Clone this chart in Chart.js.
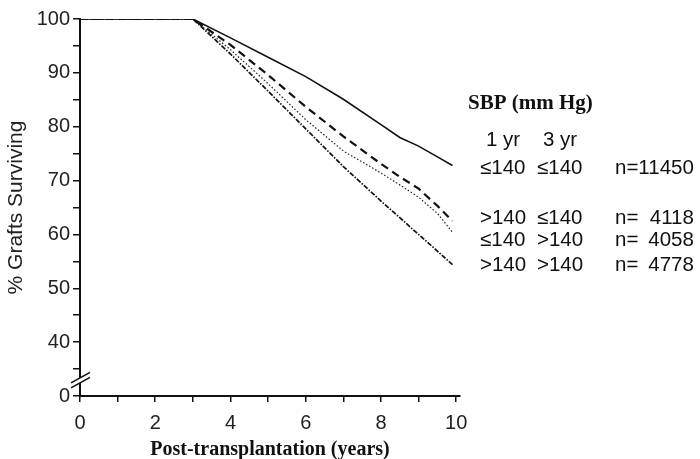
<!DOCTYPE html>
<html>
<head>
<meta charset="utf-8">
<script src="https://cdn.jsdelivr.net/npm/chart.js@4.4.0/dist/chart.umd.min.js"></script>
<style>
  html, body { margin: 0; padding: 0; background: #fff; }
</style>
</head>
<body>
<canvas id="myChart" width="700" height="459"></canvas>
<script>
// years post-transplantation and % grafts surviving
var years    = [0, 3, 4, 5, 6, 7, 8, 8.5, 9, 9.5, 9.9];
var lowLow   = [100, 100, 96.5, 92.9, 89.3, 85.1, 80.4, 78.0, 76.4, 74.4, 72.8];
var highLow  = [100, 100, 95.2, 89.6, 83.7, 78.2, 73.1, 70.7, 68.5, 65.3, 62.5];
var lowHigh  = [100, 100, 94.3, 88.0, 81.3, 75.5, 71.4, 69.2, 66.9, 63.9, 60.4];
var highHigh = [100, 100, 93.5, 86.6, 79.6, 72.6, 66.2, 63.1, 60.0, 56.9, 54.4];

// legend table
var sbp1yr  = ['≤140', '>140', '≤140', '>140'];
var sbp3yr  = ['≤140', '≤140', '>140', '>140'];
var nCounts = ['11450', '4118', '4058', '4778'];

// the y axis is broken: the lowest tick stands for 0
var yBreakValue = 30;
var yLabels = [0, 40, 50, 60, 70, 80, 90, 100];
var xLabels = [0, 2, 4, 6, 8, 10];

function points(vals) {
  return years.map(function (x, i) { return { x: x, y: vals[i] }; });
}

var numFont = 'Liberation Sans';

var legendText = {
  id: 'legendText',
  afterDraw: function (chart) {
    var ctx = chart.ctx;
    ctx.save();
    ctx.fillStyle = '#111';
    ctx.textBaseline = 'middle';
    ctx.textAlign = 'left';
    ctx.font = 'bold 21px "Liberation Serif"';
    ctx.fillText('SBP (mm Hg)', 468, 104);
    ctx.font = '20.5px "' + numFont + '"';
    ctx.fillText('1 yr', 486, 140);
    ctx.fillText('3 yr', 543, 140);
    var rows = [168, 218, 240, 265];
    var nRight = 615 + ctx.measureText('n=' + nCounts[0]).width;
    for (var i = 0; i < rows.length; i++) {
      ctx.textAlign = 'left';
      ctx.fillText(sbp1yr[i], 480, rows[i]);
      ctx.fillText(sbp3yr[i], 537, rows[i]);
      ctx.fillText('n=', 615, rows[i]);
      ctx.textAlign = 'right';
      ctx.fillText(nCounts[i], nRight, rows[i]);
    }
    ctx.restore();

    // axis break marks
    var ys = chart.scales.y, xs = chart.scales.x;
    var cx = xs.left, cy = ys.getPixelForValue(32.9);
    ctx.save();
    ctx.fillStyle = '#fff';
    ctx.beginPath();
    ctx.moveTo(cx - 9, cy + 2.5);
    ctx.lineTo(cx + 10, cy - 8);
    ctx.lineTo(cx + 10, cy - 3);
    ctx.lineTo(cx - 9, cy + 7.5);
    ctx.closePath();
    ctx.fill();
    ctx.strokeStyle = '#111';
    ctx.lineWidth = 1.6;
    ctx.beginPath();
    ctx.moveTo(cx - 9, cy + 2.5);
    ctx.lineTo(cx + 10, cy - 8);
    ctx.moveTo(cx - 9, cy + 7.5);
    ctx.lineTo(cx + 10, cy - 3);
    ctx.stroke();
    ctx.restore();
  }
};

var ctx = document.getElementById('myChart');
var myChart = new Chart(ctx, {
  type: 'line',
  data: {
    datasets: [
      { label: '≤140 ≤140', data: points(lowLow), borderColor: '#111', borderWidth: 1.6, order: 0 },
      { label: '>140 ≤140', data: points(highLow), borderColor: '#111', borderWidth: 2.2, borderDash: [8, 5], order: 1 },
      { label: '≤140 >140', data: points(lowHigh), borderColor: '#222', borderWidth: 1.2, borderDash: [1.5, 2], order: 2 },
      { label: '>140 >140', data: points(highHigh), borderColor: '#111', borderWidth: 1.7, borderDash: [5, 1.5, 1.5, 1.5], order: 3 }
    ]
  },
  options: {
    responsive: false,
    animation: false,
    events: [],
    elements: { point: { radius: 0 }, line: { tension: 0, fill: false } },
    layout: { padding: { top: 19, right: 240, left: 0, bottom: 0 } },
    plugins: { legend: { display: false }, tooltip: { enabled: false } },
    scales: {
      x: {
        type: 'linear',
        min: 0,
        max: 10.1,
        afterFit: function (s) { s.height = 63; },
        ticks: {
          stepSize: 1,
          includeBounds: false,
          autoSkip: false,
          maxRotation: 0,
          padding: 9,
          color: '#222',
          font: { family: numFont, size: 20 },
          callback: function (v) { return xLabels.indexOf(v) >= 0 ? String(v) : ''; }
        },
        grid: { drawOnChartArea: false, drawTicks: true, tickLength: 6, color: '#111', lineWidth: 1.5 },
        border: { display: true, color: '#111', width: 2 },
        title: {
          display: true,
          text: 'Post-transplantation (years)',
          color: '#111',
          font: { family: 'Liberation Serif', size: 20, weight: 'bold' },
          padding: { top: 0, bottom: -3 }
        }
      },
      y: {
        type: 'linear',
        min: yBreakValue,
        max: 100,
        afterFit: function (s) { s.width = 80; },
        ticks: {
          stepSize: 5,
          autoSkip: false,
          padding: 3,
          color: '#222',
          font: { family: numFont, size: 20 },
          callback: function (v) {
            if (v === yBreakValue) return '0';
            return yLabels.indexOf(v) >= 0 ? String(v) : '';
          }
        },
        grid: { drawOnChartArea: false, drawTicks: true, tickLength: 7, color: '#111', lineWidth: 1.5 },
        border: { display: true, color: '#111', width: 2 },
        title: {
          display: true,
          text: '% Grafts Surviving',
          color: '#222',
          font: { family: 'Liberation Sans', size: 21 },
          padding: { top: 4, bottom: 0 }
        }
      }
    }
  },
  plugins: [legendText]
});
</script>
</body>
</html>
